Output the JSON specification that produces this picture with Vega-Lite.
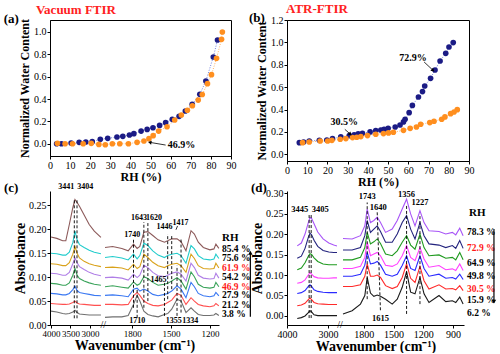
{
"$schema":"https://vega.github.io/schema/vega-lite/v6.json",
"padding":{"left":3,"top":2,"right":0,"bottom":0},
"background":"white",
"columns":2,
"align":"each",
"bounds":"flush",
"spacing":{"row":30,"column":56},
"resolve":{"scale":{"color":"independent","stroke":"independent"},"legend":{"color":"independent","stroke":"independent"}},
"config":{
 "view":{"stroke":"black","strokeWidth":1},
 "style":{"guide-label":{"font":"Liberation Serif","fontSize":10,"fill":"#000"},"guide-title":{"font":"Liberation Serif","fontWeight":"bold","fill":"#000"}},
 "axis":{"labelFont":"Liberation Serif","labelFontSize":10,"labelColor":"#000","titleFont":"Liberation Serif","titleFontWeight":"bold","titleFontSize":12,"titleColor":"#000","domainColor":"#000","domainWidth":1,"tickColor":"#000","tickSize":3,"grid":false,"labelPadding":1,"labelFlush":false,"labelOverlap":false},
 "text":{"font":"Liberation Serif","fontWeight":"bold","baseline":"middle"},
 "legend":{"labelFont":"Liberation Serif","labelFontWeight":"bold","labelFontSize":10,"labelColor":"#000"}
},
"datasets":{
 "wa":[
  {"s":"dehydration","rh":3.3,"w":0.0},{"s":"dehydration","rh":5.7,"w":0.0},{"s":"dehydration","rh":10.5,"w":0.006},{"s":"dehydration","rh":14.5,"w":0.012},{"s":"dehydration","rh":17.8,"w":0.015},{"s":"dehydration","rh":21,"w":0.018},{"s":"dehydration","rh":25,"w":0.039},{"s":"dehydration","rh":28.7,"w":0.048},{"s":"dehydration","rh":33.3,"w":0.06},{"s":"dehydration","rh":36.2,"w":0.066},{"s":"dehydration","rh":39.5,"w":0.078},{"s":"dehydration","rh":41.7,"w":0.09},{"s":"dehydration","rh":45.3,"w":0.113},{"s":"dehydration","rh":48.3,"w":0.128},{"s":"dehydration","rh":51.2,"w":0.143},{"s":"dehydration","rh":54.5,"w":0.164},{"s":"dehydration","rh":57.5,"w":0.188},{"s":"dehydration","rh":60.8,"w":0.218},{"s":"dehydration","rh":64.2,"w":0.245},{"s":"dehydration","rh":67.3,"w":0.293},{"s":"dehydration","rh":70.7,"w":0.352},{"s":"dehydration","rh":74.5,"w":0.442},{"s":"dehydration","rh":77.5,"w":0.561},{"s":"dehydration","rh":81.2,"w":0.776},{"s":"dehydration","rh":83.3,"w":0.928},
  {"s":"hydration","rh":3.7,"w":0.003},{"s":"hydration","rh":7.5,"w":0.0},{"s":"hydration","rh":11.2,"w":0.0},{"s":"hydration","rh":16.5,"w":0.0},{"s":"hydration","rh":20.5,"w":0.003},{"s":"hydration","rh":24.3,"w":-0.006},{"s":"hydration","rh":27.5,"w":-0.009},{"s":"hydration","rh":31,"w":0.0},{"s":"hydration","rh":34.7,"w":0.0},{"s":"hydration","rh":39,"w":0.0},{"s":"hydration","rh":43.3,"w":0.012},{"s":"hydration","rh":46.7,"w":0.024},{"s":"hydration","rh":49.2,"w":0.045},{"s":"hydration","rh":51.3,"w":0.072},{"s":"hydration","rh":54,"w":0.113},{"s":"hydration","rh":58.2,"w":0.152},{"s":"hydration","rh":62,"w":0.212},{"s":"hydration","rh":65.3,"w":0.257},{"s":"hydration","rh":68.3,"w":0.299},{"s":"hydration","rh":70.8,"w":0.34},{"s":"hydration","rh":73.7,"w":0.39},{"s":"hydration","rh":75.7,"w":0.44},{"s":"hydration","rh":78.3,"w":0.537},{"s":"hydration","rh":80.3,"w":0.618},{"s":"hydration","rh":82.8,"w":0.764},{"s":"hydration","rh":85.3,"w":0.934},{"s":"hydration","rh":85.7,"w":1.0}
 ],
 "wb":[
  {"s":"dehydration","rh":6.1,"w":0.104},{"s":"dehydration","rh":8.2,"w":0.11},{"s":"dehydration","rh":11,"w":0.119},{"s":"dehydration","rh":16,"w":0.125},{"s":"dehydration","rh":19.7,"w":0.128},{"s":"dehydration","rh":22.5,"w":0.14},{"s":"dehydration","rh":26.6,"w":0.155},{"s":"dehydration","rh":30.8,"w":0.167},{"s":"dehydration","rh":33.2,"w":0.173},{"s":"dehydration","rh":35.2,"w":0.182},{"s":"dehydration","rh":37.3,"w":0.188},{"s":"dehydration","rh":41.1,"w":0.2},{"s":"dehydration","rh":43.9,"w":0.211},{"s":"dehydration","rh":46.4,"w":0.217},{"s":"dehydration","rh":48,"w":0.223},{"s":"dehydration","rh":50,"w":0.232},{"s":"dehydration","rh":53.5,"w":0.244},{"s":"dehydration","rh":55.9,"w":0.262},{"s":"dehydration","rh":57.6,"w":0.289},{"s":"dehydration","rh":58.4,"w":0.313},{"s":"dehydration","rh":60.4,"w":0.372},{"s":"dehydration","rh":62,"w":0.437},{"s":"dehydration","rh":65,"w":0.512},{"s":"dehydration","rh":67,"w":0.56},{"s":"dehydration","rh":68.1,"w":0.61},{"s":"dehydration","rh":71,"w":0.679},{"s":"dehydration","rh":73.2,"w":0.753},{"s":"dehydration","rh":75.7,"w":0.834},{"s":"dehydration","rh":78.5,"w":0.902},{"s":"dehydration","rh":80.1,"w":0.959},{"s":"dehydration","rh":82.2,"w":0.998},
  {"s":"hydration","rh":7.7,"w":0.104},{"s":"hydration","rh":11,"w":0.11},{"s":"hydration","rh":16.4,"w":0.119},{"s":"hydration","rh":20.1,"w":0.119},{"s":"hydration","rh":22.2,"w":0.125},{"s":"hydration","rh":26.3,"w":0.134},{"s":"hydration","rh":29.1,"w":0.14},{"s":"hydration","rh":32.4,"w":0.149},{"s":"hydration","rh":34.5,"w":0.152},{"s":"hydration","rh":36.5,"w":0.158},{"s":"hydration","rh":39.8,"w":0.167},{"s":"hydration","rh":43.9,"w":0.179},{"s":"hydration","rh":47.7,"w":0.185},{"s":"hydration","rh":50.2,"w":0.191},{"s":"hydration","rh":52.6,"w":0.197},{"s":"hydration","rh":57.6,"w":0.214},{"s":"hydration","rh":60.9,"w":0.232},{"s":"hydration","rh":64,"w":0.244},{"s":"hydration","rh":66.1,"w":0.268},{"s":"hydration","rh":70.6,"w":0.283},{"s":"hydration","rh":72.7,"w":0.295},{"s":"hydration","rh":76.5,"w":0.313},{"s":"hydration","rh":78.1,"w":0.334},{"s":"hydration","rh":80.9,"w":0.363},{"s":"hydration","rh":82.6,"w":0.378},{"s":"hydration","rh":84.2,"w":0.399}
 ],
 "sc":[
  {"k":"3.8%","g":"L","x":4000,"y":0.029},{"k":"3.8%","g":"L","x":3850,"y":0.027},{"k":"3.8%","g":"L","x":3700,"y":0.024},{"k":"3.8%","g":"L","x":3620,"y":0.023},{"k":"3.8%","g":"L","x":3530,"y":0.024},{"k":"3.8%","g":"L","x":3440,"y":0.027},{"k":"3.8%","g":"L","x":3385,"y":0.031},{"k":"3.8%","g":"L","x":3330,"y":0.026},{"k":"3.8%","g":"L","x":3270,"y":0.023},{"k":"3.8%","g":"L","x":3150,"y":0.022},{"k":"3.8%","g":"L","x":3020,"y":0.021},{"k":"3.8%","g":"L","x":2890,"y":0.021},{"k":"3.8%","g":"L","x":2720,"y":0.021},
  {"k":"3.8%","g":"R","x":2010,"y":0.016},{"k":"3.8%","g":"R","x":1951,"y":0.017},{"k":"3.8%","g":"R","x":1880,"y":0.017},{"k":"3.8%","g":"R","x":1831,"y":0.02},{"k":"3.8%","g":"R","x":1790,"y":0.043},{"k":"3.8%","g":"R","x":1762,"y":0.062},{"k":"3.8%","g":"R","x":1741,"y":0.05},{"k":"3.8%","g":"R","x":1710,"y":0.029},{"k":"3.8%","g":"R","x":1679,"y":0.022},{"k":"3.8%","g":"R","x":1641,"y":0.019},{"k":"3.8%","g":"R","x":1600,"y":0.017},{"k":"3.8%","g":"R","x":1551,"y":0.022},{"k":"3.8%","g":"R","x":1526,"y":0.024},{"k":"3.8%","g":"R","x":1495,"y":0.033},{"k":"3.8%","g":"R","x":1454,"y":0.054},{"k":"3.8%","g":"R","x":1423,"y":0.05},{"k":"3.8%","g":"R","x":1385,"y":0.026},{"k":"3.8%","g":"R","x":1346,"y":0.036},{"k":"3.8%","g":"R","x":1320,"y":0.029},{"k":"3.8%","g":"R","x":1290,"y":0.022},{"k":"3.8%","g":"R","x":1251,"y":0.02},{"k":"3.8%","g":"R","x":1200,"y":0.02},{"k":"3.8%","g":"R","x":1169,"y":0.021},{"k":"3.8%","g":"R","x":1154,"y":0.024},{"k":"3.8%","g":"R","x":1131,"y":0.02},
  {"k":"21.2%","g":"L","x":4000,"y":0.045},{"k":"21.2%","g":"L","x":3850,"y":0.044},{"k":"21.2%","g":"L","x":3700,"y":0.043},{"k":"21.2%","g":"L","x":3620,"y":0.043},{"k":"21.2%","g":"L","x":3530,"y":0.044},{"k":"21.2%","g":"L","x":3440,"y":0.047},{"k":"21.2%","g":"L","x":3385,"y":0.05},{"k":"21.2%","g":"L","x":3330,"y":0.046},{"k":"21.2%","g":"L","x":3270,"y":0.044},{"k":"21.2%","g":"L","x":3150,"y":0.043},{"k":"21.2%","g":"L","x":3020,"y":0.042},{"k":"21.2%","g":"L","x":2890,"y":0.041},{"k":"21.2%","g":"L","x":2720,"y":0.041},
  {"k":"21.2%","g":"R","x":2010,"y":0.043},{"k":"21.2%","g":"R","x":1951,"y":0.043},{"k":"21.2%","g":"R","x":1880,"y":0.042},{"k":"21.2%","g":"R","x":1831,"y":0.043},{"k":"21.2%","g":"R","x":1790,"y":0.061},{"k":"21.2%","g":"R","x":1762,"y":0.068},{"k":"21.2%","g":"R","x":1741,"y":0.062},{"k":"21.2%","g":"R","x":1710,"y":0.05},{"k":"21.2%","g":"R","x":1679,"y":0.045},{"k":"21.2%","g":"R","x":1641,"y":0.041},{"k":"21.2%","g":"R","x":1600,"y":0.04},{"k":"21.2%","g":"R","x":1551,"y":0.043},{"k":"21.2%","g":"R","x":1526,"y":0.047},{"k":"21.2%","g":"R","x":1495,"y":0.052},{"k":"21.2%","g":"R","x":1454,"y":0.066},{"k":"21.2%","g":"R","x":1423,"y":0.062},{"k":"21.2%","g":"R","x":1385,"y":0.043},{"k":"21.2%","g":"R","x":1346,"y":0.057},{"k":"21.2%","g":"R","x":1320,"y":0.05},{"k":"21.2%","g":"R","x":1290,"y":0.043},{"k":"21.2%","g":"R","x":1251,"y":0.04},{"k":"21.2%","g":"R","x":1200,"y":0.038},{"k":"21.2%","g":"R","x":1169,"y":0.04},{"k":"21.2%","g":"R","x":1154,"y":0.045},{"k":"21.2%","g":"R","x":1131,"y":0.04},
  {"k":"27.9%","g":"L","x":4000,"y":0.066},{"k":"27.9%","g":"L","x":3850,"y":0.065},{"k":"27.9%","g":"L","x":3700,"y":0.063},{"k":"27.9%","g":"L","x":3620,"y":0.063},{"k":"27.9%","g":"L","x":3530,"y":0.066},{"k":"27.9%","g":"L","x":3440,"y":0.074},{"k":"27.9%","g":"L","x":3385,"y":0.081},{"k":"27.9%","g":"L","x":3330,"y":0.072},{"k":"27.9%","g":"L","x":3270,"y":0.068},{"k":"27.9%","g":"L","x":3150,"y":0.066},{"k":"27.9%","g":"L","x":3020,"y":0.064},{"k":"27.9%","g":"L","x":2890,"y":0.062},{"k":"27.9%","g":"L","x":2720,"y":0.061},
  {"k":"27.9%","g":"R","x":2010,"y":0.062},{"k":"27.9%","g":"R","x":1951,"y":0.063},{"k":"27.9%","g":"R","x":1880,"y":0.061},{"k":"27.9%","g":"R","x":1831,"y":0.059},{"k":"27.9%","g":"R","x":1790,"y":0.075},{"k":"27.9%","g":"R","x":1762,"y":0.077},{"k":"27.9%","g":"R","x":1741,"y":0.071},{"k":"27.9%","g":"R","x":1710,"y":0.075},{"k":"27.9%","g":"R","x":1679,"y":0.071},{"k":"27.9%","g":"R","x":1641,"y":0.064},{"k":"27.9%","g":"R","x":1600,"y":0.061},{"k":"27.9%","g":"R","x":1551,"y":0.064},{"k":"27.9%","g":"R","x":1526,"y":0.066},{"k":"27.9%","g":"R","x":1495,"y":0.071},{"k":"27.9%","g":"R","x":1454,"y":0.082},{"k":"27.9%","g":"R","x":1423,"y":0.075},{"k":"27.9%","g":"R","x":1385,"y":0.057},{"k":"27.9%","g":"R","x":1346,"y":0.089},{"k":"27.9%","g":"R","x":1320,"y":0.08},{"k":"27.9%","g":"R","x":1290,"y":0.066},{"k":"27.9%","g":"R","x":1251,"y":0.061},{"k":"27.9%","g":"R","x":1200,"y":0.059},{"k":"27.9%","g":"R","x":1169,"y":0.061},{"k":"27.9%","g":"R","x":1154,"y":0.068},{"k":"27.9%","g":"R","x":1131,"y":0.061},
  {"k":"46.9%","g":"L","x":4000,"y":0.087},{"k":"46.9%","g":"L","x":3850,"y":0.086},{"k":"46.9%","g":"L","x":3700,"y":0.083},{"k":"46.9%","g":"L","x":3620,"y":0.083},{"k":"46.9%","g":"L","x":3530,"y":0.088},{"k":"46.9%","g":"L","x":3440,"y":0.104},{"k":"46.9%","g":"L","x":3385,"y":0.118},{"k":"46.9%","g":"L","x":3330,"y":0.104},{"k":"46.9%","g":"L","x":3270,"y":0.097},{"k":"46.9%","g":"L","x":3150,"y":0.092},{"k":"46.9%","g":"L","x":3020,"y":0.088},{"k":"46.9%","g":"L","x":2890,"y":0.085},{"k":"46.9%","g":"L","x":2720,"y":0.083},
  {"k":"46.9%","g":"R","x":2010,"y":0.08},{"k":"46.9%","g":"R","x":1951,"y":0.082},{"k":"46.9%","g":"R","x":1880,"y":0.079},{"k":"46.9%","g":"R","x":1831,"y":0.077},{"k":"46.9%","g":"R","x":1790,"y":0.09},{"k":"46.9%","g":"R","x":1762,"y":0.083},{"k":"46.9%","g":"R","x":1741,"y":0.086},{"k":"46.9%","g":"R","x":1710,"y":0.101},{"k":"46.9%","g":"R","x":1679,"y":0.097},{"k":"46.9%","g":"R","x":1641,"y":0.089},{"k":"46.9%","g":"R","x":1600,"y":0.083},{"k":"46.9%","g":"R","x":1551,"y":0.085},{"k":"46.9%","g":"R","x":1526,"y":0.087},{"k":"46.9%","g":"R","x":1495,"y":0.092},{"k":"46.9%","g":"R","x":1454,"y":0.099},{"k":"46.9%","g":"R","x":1423,"y":0.092},{"k":"46.9%","g":"R","x":1385,"y":0.075},{"k":"46.9%","g":"R","x":1346,"y":0.111},{"k":"46.9%","g":"R","x":1320,"y":0.101},{"k":"46.9%","g":"R","x":1290,"y":0.085},{"k":"46.9%","g":"R","x":1251,"y":0.079},{"k":"46.9%","g":"R","x":1200,"y":0.077},{"k":"46.9%","g":"R","x":1169,"y":0.079},{"k":"46.9%","g":"R","x":1154,"y":0.089},{"k":"46.9%","g":"R","x":1131,"y":0.08},
  {"k":"54.2%","g":"L","x":4000,"y":0.108},{"k":"54.2%","g":"L","x":3850,"y":0.107},{"k":"54.2%","g":"L","x":3700,"y":0.104},{"k":"54.2%","g":"L","x":3620,"y":0.104},{"k":"54.2%","g":"L","x":3530,"y":0.11},{"k":"54.2%","g":"L","x":3440,"y":0.128},{"k":"54.2%","g":"L","x":3385,"y":0.14},{"k":"54.2%","g":"L","x":3330,"y":0.13},{"k":"54.2%","g":"L","x":3270,"y":0.122},{"k":"54.2%","g":"L","x":3150,"y":0.116},{"k":"54.2%","g":"L","x":3020,"y":0.11},{"k":"54.2%","g":"L","x":2890,"y":0.106},{"k":"54.2%","g":"L","x":2720,"y":0.103},
  {"k":"54.2%","g":"R","x":2010,"y":0.099},{"k":"54.2%","g":"R","x":1951,"y":0.1},{"k":"54.2%","g":"R","x":1880,"y":0.098},{"k":"54.2%","g":"R","x":1831,"y":0.094},{"k":"54.2%","g":"R","x":1790,"y":0.106},{"k":"54.2%","g":"R","x":1762,"y":0.099},{"k":"54.2%","g":"R","x":1741,"y":0.104},{"k":"54.2%","g":"R","x":1710,"y":0.125},{"k":"54.2%","g":"R","x":1679,"y":0.12},{"k":"54.2%","g":"R","x":1641,"y":0.11},{"k":"54.2%","g":"R","x":1600,"y":0.103},{"k":"54.2%","g":"R","x":1551,"y":0.101},{"k":"54.2%","g":"R","x":1526,"y":0.104},{"k":"54.2%","g":"R","x":1495,"y":0.108},{"k":"54.2%","g":"R","x":1454,"y":0.111},{"k":"54.2%","g":"R","x":1423,"y":0.106},{"k":"54.2%","g":"R","x":1385,"y":0.092},{"k":"54.2%","g":"R","x":1346,"y":0.129},{"k":"54.2%","g":"R","x":1320,"y":0.12},{"k":"54.2%","g":"R","x":1290,"y":0.104},{"k":"54.2%","g":"R","x":1251,"y":0.098},{"k":"54.2%","g":"R","x":1200,"y":0.096},{"k":"54.2%","g":"R","x":1169,"y":0.097},{"k":"54.2%","g":"R","x":1154,"y":0.108},{"k":"54.2%","g":"R","x":1131,"y":0.098},
  {"k":"61.9%","g":"L","x":4000,"y":0.128},{"k":"61.9%","g":"L","x":3850,"y":0.127},{"k":"61.9%","g":"L","x":3700,"y":0.124},{"k":"61.9%","g":"L","x":3620,"y":0.124},{"k":"61.9%","g":"L","x":3530,"y":0.13},{"k":"61.9%","g":"L","x":3440,"y":0.148},{"k":"61.9%","g":"L","x":3385,"y":0.164},{"k":"61.9%","g":"L","x":3330,"y":0.15},{"k":"61.9%","g":"L","x":3270,"y":0.14},{"k":"61.9%","g":"L","x":3150,"y":0.133},{"k":"61.9%","g":"L","x":3020,"y":0.128},{"k":"61.9%","g":"L","x":2890,"y":0.125},{"k":"61.9%","g":"L","x":2720,"y":0.122},
  {"k":"61.9%","g":"R","x":2010,"y":0.12},{"k":"61.9%","g":"R","x":1951,"y":0.121},{"k":"61.9%","g":"R","x":1880,"y":0.119},{"k":"61.9%","g":"R","x":1831,"y":0.115},{"k":"61.9%","g":"R","x":1790,"y":0.127},{"k":"61.9%","g":"R","x":1762,"y":0.118},{"k":"61.9%","g":"R","x":1741,"y":0.122},{"k":"61.9%","g":"R","x":1710,"y":0.148},{"k":"61.9%","g":"R","x":1679,"y":0.141},{"k":"61.9%","g":"R","x":1641,"y":0.131},{"k":"61.9%","g":"R","x":1600,"y":0.124},{"k":"61.9%","g":"R","x":1551,"y":0.12},{"k":"61.9%","g":"R","x":1526,"y":0.124},{"k":"61.9%","g":"R","x":1495,"y":0.127},{"k":"61.9%","g":"R","x":1454,"y":0.129},{"k":"61.9%","g":"R","x":1423,"y":0.124},{"k":"61.9%","g":"R","x":1385,"y":0.11},{"k":"61.9%","g":"R","x":1346,"y":0.148},{"k":"61.9%","g":"R","x":1320,"y":0.139},{"k":"61.9%","g":"R","x":1290,"y":0.124},{"k":"61.9%","g":"R","x":1251,"y":0.118},{"k":"61.9%","g":"R","x":1200,"y":0.117},{"k":"61.9%","g":"R","x":1169,"y":0.118},{"k":"61.9%","g":"R","x":1154,"y":0.129},{"k":"61.9%","g":"R","x":1131,"y":0.119},
  {"k":"75.6%","g":"L","x":4000,"y":0.15},{"k":"75.6%","g":"L","x":3850,"y":0.149},{"k":"75.6%","g":"L","x":3700,"y":0.146},{"k":"75.6%","g":"L","x":3620,"y":0.146},{"k":"75.6%","g":"L","x":3530,"y":0.152},{"k":"75.6%","g":"L","x":3440,"y":0.172},{"k":"75.6%","g":"L","x":3385,"y":0.196},{"k":"75.6%","g":"L","x":3330,"y":0.178},{"k":"75.6%","g":"L","x":3270,"y":0.168},{"k":"75.6%","g":"L","x":3150,"y":0.162},{"k":"75.6%","g":"L","x":3020,"y":0.156},{"k":"75.6%","g":"L","x":2890,"y":0.152},{"k":"75.6%","g":"L","x":2720,"y":0.149},
  {"k":"75.6%","g":"R","x":2010,"y":0.141},{"k":"75.6%","g":"R","x":1951,"y":0.143},{"k":"75.6%","g":"R","x":1880,"y":0.14},{"k":"75.6%","g":"R","x":1831,"y":0.136},{"k":"75.6%","g":"R","x":1790,"y":0.148},{"k":"75.6%","g":"R","x":1762,"y":0.138},{"k":"75.6%","g":"R","x":1741,"y":0.145},{"k":"75.6%","g":"R","x":1710,"y":0.171},{"k":"75.6%","g":"R","x":1679,"y":0.166},{"k":"75.6%","g":"R","x":1641,"y":0.155},{"k":"75.6%","g":"R","x":1600,"y":0.146},{"k":"75.6%","g":"R","x":1551,"y":0.141},{"k":"75.6%","g":"R","x":1526,"y":0.145},{"k":"75.6%","g":"R","x":1495,"y":0.148},{"k":"75.6%","g":"R","x":1454,"y":0.15},{"k":"75.6%","g":"R","x":1423,"y":0.145},{"k":"75.6%","g":"R","x":1385,"y":0.129},{"k":"75.6%","g":"R","x":1346,"y":0.166},{"k":"75.6%","g":"R","x":1320,"y":0.159},{"k":"75.6%","g":"R","x":1290,"y":0.145},{"k":"75.6%","g":"R","x":1251,"y":0.138},{"k":"75.6%","g":"R","x":1200,"y":0.136},{"k":"75.6%","g":"R","x":1169,"y":0.138},{"k":"75.6%","g":"R","x":1154,"y":0.148},{"k":"75.6%","g":"R","x":1131,"y":0.139},
  {"k":"85.4%","g":"L","x":4000,"y":0.184},{"k":"85.4%","g":"L","x":3850,"y":0.181},{"k":"85.4%","g":"L","x":3700,"y":0.176},{"k":"85.4%","g":"L","x":3620,"y":0.176},{"k":"85.4%","g":"L","x":3530,"y":0.21},{"k":"85.4%","g":"L","x":3440,"y":0.245},{"k":"85.4%","g":"L","x":3385,"y":0.262},{"k":"85.4%","g":"L","x":3330,"y":0.256},{"k":"85.4%","g":"L","x":3270,"y":0.248},{"k":"85.4%","g":"L","x":3150,"y":0.23},{"k":"85.4%","g":"L","x":3020,"y":0.21},{"k":"85.4%","g":"L","x":2890,"y":0.196},{"k":"85.4%","g":"L","x":2720,"y":0.183},
  {"k":"85.4%","g":"R","x":2010,"y":0.162},{"k":"85.4%","g":"R","x":1951,"y":0.164},{"k":"85.4%","g":"R","x":1880,"y":0.16},{"k":"85.4%","g":"R","x":1831,"y":0.155},{"k":"85.4%","g":"R","x":1790,"y":0.169},{"k":"85.4%","g":"R","x":1762,"y":0.16},{"k":"85.4%","g":"R","x":1741,"y":0.164},{"k":"85.4%","g":"R","x":1710,"y":0.194},{"k":"85.4%","g":"R","x":1679,"y":0.195},{"k":"85.4%","g":"R","x":1641,"y":0.187},{"k":"85.4%","g":"R","x":1600,"y":0.178},{"k":"85.4%","g":"R","x":1551,"y":0.173},{"k":"85.4%","g":"R","x":1526,"y":0.176},{"k":"85.4%","g":"R","x":1495,"y":0.18},{"k":"85.4%","g":"R","x":1454,"y":0.18},{"k":"85.4%","g":"R","x":1423,"y":0.174},{"k":"85.4%","g":"R","x":1385,"y":0.155},{"k":"85.4%","g":"R","x":1346,"y":0.197},{"k":"85.4%","g":"R","x":1320,"y":0.19},{"k":"85.4%","g":"R","x":1290,"y":0.173},{"k":"85.4%","g":"R","x":1251,"y":0.162},{"k":"85.4%","g":"R","x":1200,"y":0.157},{"k":"85.4%","g":"R","x":1169,"y":0.159},{"k":"85.4%","g":"R","x":1154,"y":0.169},{"k":"85.4%","g":"R","x":1131,"y":0.16}
 ],
 "sd":[
  {"k":"6.2%","g":"L","x":3750,"y":-0.006},{"k":"6.2%","g":"L","x":3650,"y":-0.004},{"k":"6.2%","g":"L","x":3560,"y":0.0},{"k":"6.2%","g":"L","x":3480,"y":0.008},{"k":"6.2%","g":"L","x":3440,"y":0.013},{"k":"6.2%","g":"L","x":3400,"y":0.01},{"k":"6.2%","g":"L","x":3340,"y":0.003},{"k":"6.2%","g":"L","x":3250,"y":0.001},{"k":"6.2%","g":"L","x":3120,"y":0.001},{"k":"6.2%","g":"L","x":2980,"y":0.001},{"k":"6.2%","g":"L","x":2860,"y":0.001},{"k":"6.2%","g":"L","x":2780,"y":0.001},
  {"k":"6.2%","g":"R","x":2010,"y":0.005},{"k":"6.2%","g":"R","x":1918,"y":0.013},{"k":"6.2%","g":"R","x":1834,"y":0.029},{"k":"6.2%","g":"R","x":1790,"y":0.05},{"k":"6.2%","g":"R","x":1766,"y":0.094},{"k":"6.2%","g":"R","x":1733,"y":0.056},{"k":"6.2%","g":"R","x":1699,"y":0.048},{"k":"6.2%","g":"R","x":1665,"y":0.051},{"k":"6.2%","g":"R","x":1632,"y":0.048},{"k":"6.2%","g":"R","x":1581,"y":0.041},{"k":"6.2%","g":"R","x":1514,"y":0.029},{"k":"6.2%","g":"R","x":1463,"y":0.041},{"k":"6.2%","g":"R","x":1413,"y":0.07},{"k":"6.2%","g":"R","x":1369,"y":0.108},{"k":"6.2%","g":"R","x":1328,"y":0.058},{"k":"6.2%","g":"R","x":1284,"y":0.054},{"k":"6.2%","g":"R","x":1234,"y":0.094},{"k":"6.2%","g":"R","x":1193,"y":0.054},{"k":"6.2%","g":"R","x":1143,"y":0.033},{"k":"6.2%","g":"R","x":1042,"y":0.05},{"k":"6.2%","g":"R","x":974,"y":0.035},{"k":"6.2%","g":"R","x":907,"y":0.037},{"k":"6.2%","g":"R","x":873,"y":0.033},{"k":"6.2%","g":"R","x":833,"y":0.046},{"k":"6.2%","g":"R","x":799,"y":0.029},
  {"k":"15.9%","g":"L","x":3750,"y":0.025},{"k":"15.9%","g":"L","x":3650,"y":0.027},{"k":"15.9%","g":"L","x":3560,"y":0.031},{"k":"15.9%","g":"L","x":3480,"y":0.04},{"k":"15.9%","g":"L","x":3440,"y":0.044},{"k":"15.9%","g":"L","x":3400,"y":0.04},{"k":"15.9%","g":"L","x":3340,"y":0.033},{"k":"15.9%","g":"L","x":3250,"y":0.03},{"k":"15.9%","g":"L","x":3120,"y":0.029},{"k":"15.9%","g":"L","x":2980,"y":0.028},{"k":"15.9%","g":"L","x":2860,"y":0.028},{"k":"15.9%","g":"L","x":2780,"y":0.028},
  {"k":"15.9%","g":"R","x":2010,"y":0.072},{"k":"15.9%","g":"R","x":1918,"y":0.072},{"k":"15.9%","g":"R","x":1834,"y":0.076},{"k":"15.9%","g":"R","x":1790,"y":0.097},{"k":"15.9%","g":"R","x":1766,"y":0.127},{"k":"15.9%","g":"R","x":1733,"y":0.097},{"k":"15.9%","g":"R","x":1699,"y":0.097},{"k":"15.9%","g":"R","x":1665,"y":0.1},{"k":"15.9%","g":"R","x":1632,"y":0.094},{"k":"15.9%","g":"R","x":1581,"y":0.074},{"k":"15.9%","g":"R","x":1514,"y":0.067},{"k":"15.9%","g":"R","x":1463,"y":0.072},{"k":"15.9%","g":"R","x":1413,"y":0.094},{"k":"15.9%","g":"R","x":1369,"y":0.127},{"k":"15.9%","g":"R","x":1328,"y":0.092},{"k":"15.9%","g":"R","x":1284,"y":0.082},{"k":"15.9%","g":"R","x":1234,"y":0.121},{"k":"15.9%","g":"R","x":1193,"y":0.086},{"k":"15.9%","g":"R","x":1143,"y":0.066},{"k":"15.9%","g":"R","x":1042,"y":0.076},{"k":"15.9%","g":"R","x":974,"y":0.066},{"k":"15.9%","g":"R","x":907,"y":0.067},{"k":"15.9%","g":"R","x":873,"y":0.064},{"k":"15.9%","g":"R","x":833,"y":0.074},{"k":"15.9%","g":"R","x":799,"y":0.062},
  {"k":"30.5%","g":"L","x":3750,"y":0.055},{"k":"30.5%","g":"L","x":3650,"y":0.057},{"k":"30.5%","g":"L","x":3560,"y":0.062},{"k":"30.5%","g":"L","x":3480,"y":0.072},{"k":"30.5%","g":"L","x":3440,"y":0.076},{"k":"30.5%","g":"L","x":3400,"y":0.072},{"k":"30.5%","g":"L","x":3340,"y":0.064},{"k":"30.5%","g":"L","x":3250,"y":0.06},{"k":"30.5%","g":"L","x":3120,"y":0.058},{"k":"30.5%","g":"L","x":2980,"y":0.057},{"k":"30.5%","g":"L","x":2860,"y":0.057},{"k":"30.5%","g":"L","x":2780,"y":0.057},
  {"k":"30.5%","g":"R","x":2010,"y":0.097},{"k":"30.5%","g":"R","x":1918,"y":0.097},{"k":"30.5%","g":"R","x":1834,"y":0.102},{"k":"30.5%","g":"R","x":1790,"y":0.124},{"k":"30.5%","g":"R","x":1766,"y":0.155},{"k":"30.5%","g":"R","x":1733,"y":0.127},{"k":"30.5%","g":"R","x":1699,"y":0.129},{"k":"30.5%","g":"R","x":1665,"y":0.133},{"k":"30.5%","g":"R","x":1632,"y":0.124},{"k":"30.5%","g":"R","x":1581,"y":0.102},{"k":"30.5%","g":"R","x":1514,"y":0.097},{"k":"30.5%","g":"R","x":1463,"y":0.102},{"k":"30.5%","g":"R","x":1413,"y":0.123},{"k":"30.5%","g":"R","x":1369,"y":0.147},{"k":"30.5%","g":"R","x":1328,"y":0.116},{"k":"30.5%","g":"R","x":1284,"y":0.111},{"k":"30.5%","g":"R","x":1234,"y":0.147},{"k":"30.5%","g":"R","x":1193,"y":0.116},{"k":"30.5%","g":"R","x":1143,"y":0.097},{"k":"30.5%","g":"R","x":1042,"y":0.102},{"k":"30.5%","g":"R","x":974,"y":0.092},{"k":"30.5%","g":"R","x":907,"y":0.094},{"k":"30.5%","g":"R","x":873,"y":0.09},{"k":"30.5%","g":"R","x":833,"y":0.102},{"k":"30.5%","g":"R","x":799,"y":0.089},
  {"k":"49.8%","g":"L","x":3750,"y":0.08},{"k":"49.8%","g":"L","x":3650,"y":0.082},{"k":"49.8%","g":"L","x":3560,"y":0.088},{"k":"49.8%","g":"L","x":3480,"y":0.1},{"k":"49.8%","g":"L","x":3440,"y":0.106},{"k":"49.8%","g":"L","x":3400,"y":0.102},{"k":"49.8%","g":"L","x":3340,"y":0.096},{"k":"49.8%","g":"L","x":3250,"y":0.093},{"k":"49.8%","g":"L","x":3120,"y":0.092},{"k":"49.8%","g":"L","x":2980,"y":0.092},{"k":"49.8%","g":"L","x":2860,"y":0.093},{"k":"49.8%","g":"L","x":2780,"y":0.093},
  {"k":"49.8%","g":"R","x":2010,"y":0.116},{"k":"49.8%","g":"R","x":1918,"y":0.116},{"k":"49.8%","g":"R","x":1834,"y":0.121},{"k":"49.8%","g":"R","x":1790,"y":0.143},{"k":"49.8%","g":"R","x":1766,"y":0.18},{"k":"49.8%","g":"R","x":1733,"y":0.147},{"k":"49.8%","g":"R","x":1699,"y":0.151},{"k":"49.8%","g":"R","x":1665,"y":0.155},{"k":"49.8%","g":"R","x":1632,"y":0.147},{"k":"49.8%","g":"R","x":1581,"y":0.124},{"k":"49.8%","g":"R","x":1514,"y":0.121},{"k":"49.8%","g":"R","x":1463,"y":0.127},{"k":"49.8%","g":"R","x":1413,"y":0.147},{"k":"49.8%","g":"R","x":1369,"y":0.172},{"k":"49.8%","g":"R","x":1328,"y":0.143},{"k":"49.8%","g":"R","x":1284,"y":0.135},{"k":"49.8%","g":"R","x":1234,"y":0.167},{"k":"49.8%","g":"R","x":1193,"y":0.139},{"k":"49.8%","g":"R","x":1143,"y":0.119},{"k":"49.8%","g":"R","x":1042,"y":0.123},{"k":"49.8%","g":"R","x":974,"y":0.113},{"k":"49.8%","g":"R","x":907,"y":0.115},{"k":"49.8%","g":"R","x":873,"y":0.111},{"k":"49.8%","g":"R","x":833,"y":0.127},{"k":"49.8%","g":"R","x":799,"y":0.111},
  {"k":"64.9%","g":"L","x":3750,"y":0.113},{"k":"64.9%","g":"L","x":3650,"y":0.117},{"k":"64.9%","g":"L","x":3560,"y":0.13},{"k":"64.9%","g":"L","x":3480,"y":0.146},{"k":"64.9%","g":"L","x":3440,"y":0.152},{"k":"64.9%","g":"L","x":3400,"y":0.15},{"k":"64.9%","g":"L","x":3340,"y":0.142},{"k":"64.9%","g":"L","x":3250,"y":0.133},{"k":"64.9%","g":"L","x":3120,"y":0.127},{"k":"64.9%","g":"L","x":2980,"y":0.125},{"k":"64.9%","g":"L","x":2860,"y":0.125},{"k":"64.9%","g":"L","x":2780,"y":0.125},
  {"k":"64.9%","g":"R","x":2010,"y":0.137},{"k":"64.9%","g":"R","x":1918,"y":0.137},{"k":"64.9%","g":"R","x":1834,"y":0.143},{"k":"64.9%","g":"R","x":1790,"y":0.167},{"k":"64.9%","g":"R","x":1766,"y":0.204},{"k":"64.9%","g":"R","x":1733,"y":0.176},{"k":"64.9%","g":"R","x":1699,"y":0.181},{"k":"64.9%","g":"R","x":1665,"y":0.188},{"k":"64.9%","g":"R","x":1632,"y":0.177},{"k":"64.9%","g":"R","x":1581,"y":0.151},{"k":"64.9%","g":"R","x":1514,"y":0.147},{"k":"64.9%","g":"R","x":1463,"y":0.159},{"k":"64.9%","g":"R","x":1413,"y":0.18},{"k":"64.9%","g":"R","x":1369,"y":0.196},{"k":"64.9%","g":"R","x":1328,"y":0.173},{"k":"64.9%","g":"R","x":1284,"y":0.163},{"k":"64.9%","g":"R","x":1234,"y":0.2},{"k":"64.9%","g":"R","x":1193,"y":0.167},{"k":"64.9%","g":"R","x":1143,"y":0.147},{"k":"64.9%","g":"R","x":1042,"y":0.149},{"k":"64.9%","g":"R","x":974,"y":0.141},{"k":"64.9%","g":"R","x":907,"y":0.143},{"k":"64.9%","g":"R","x":873,"y":0.137},{"k":"64.9%","g":"R","x":833,"y":0.155},{"k":"64.9%","g":"R","x":799,"y":0.137},
  {"k":"72.9%","g":"L","x":3750,"y":0.141},{"k":"72.9%","g":"L","x":3650,"y":0.146},{"k":"72.9%","g":"L","x":3560,"y":0.165},{"k":"72.9%","g":"L","x":3480,"y":0.192},{"k":"72.9%","g":"L","x":3440,"y":0.202},{"k":"72.9%","g":"L","x":3400,"y":0.198},{"k":"72.9%","g":"L","x":3340,"y":0.185},{"k":"72.9%","g":"L","x":3250,"y":0.17},{"k":"72.9%","g":"L","x":3120,"y":0.16},{"k":"72.9%","g":"L","x":2980,"y":0.156},{"k":"72.9%","g":"L","x":2860,"y":0.155},{"k":"72.9%","g":"L","x":2780,"y":0.155},
  {"k":"72.9%","g":"R","x":2010,"y":0.161},{"k":"72.9%","g":"R","x":1918,"y":0.161},{"k":"72.9%","g":"R","x":1834,"y":0.167},{"k":"72.9%","g":"R","x":1790,"y":0.196},{"k":"72.9%","g":"R","x":1766,"y":0.233},{"k":"72.9%","g":"R","x":1733,"y":0.204},{"k":"72.9%","g":"R","x":1699,"y":0.212},{"k":"72.9%","g":"R","x":1665,"y":0.22},{"k":"72.9%","g":"R","x":1632,"y":0.206},{"k":"72.9%","g":"R","x":1581,"y":0.18},{"k":"72.9%","g":"R","x":1514,"y":0.18},{"k":"72.9%","g":"R","x":1463,"y":0.2},{"k":"72.9%","g":"R","x":1413,"y":0.228},{"k":"72.9%","g":"R","x":1369,"y":0.245},{"k":"72.9%","g":"R","x":1328,"y":0.212},{"k":"72.9%","g":"R","x":1284,"y":0.188},{"k":"72.9%","g":"R","x":1234,"y":0.228},{"k":"72.9%","g":"R","x":1193,"y":0.196},{"k":"72.9%","g":"R","x":1143,"y":0.176},{"k":"72.9%","g":"R","x":1042,"y":0.173},{"k":"72.9%","g":"R","x":974,"y":0.167},{"k":"72.9%","g":"R","x":907,"y":0.172},{"k":"72.9%","g":"R","x":873,"y":0.165},{"k":"72.9%","g":"R","x":833,"y":0.184},{"k":"72.9%","g":"R","x":799,"y":0.165},
  {"k":"78.3%","g":"L","x":3750,"y":0.171},{"k":"78.3%","g":"L","x":3650,"y":0.178},{"k":"78.3%","g":"L","x":3560,"y":0.2},{"k":"78.3%","g":"L","x":3480,"y":0.228},{"k":"78.3%","g":"L","x":3440,"y":0.24},{"k":"78.3%","g":"L","x":3400,"y":0.238},{"k":"78.3%","g":"L","x":3340,"y":0.225},{"k":"78.3%","g":"L","x":3250,"y":0.205},{"k":"78.3%","g":"L","x":3120,"y":0.188},{"k":"78.3%","g":"L","x":2980,"y":0.178},{"k":"78.3%","g":"L","x":2860,"y":0.173},{"k":"78.3%","g":"L","x":2780,"y":0.171},
  {"k":"78.3%","g":"R","x":2010,"y":0.189},{"k":"78.3%","g":"R","x":1918,"y":0.188},{"k":"78.3%","g":"R","x":1834,"y":0.196},{"k":"78.3%","g":"R","x":1790,"y":0.22},{"k":"78.3%","g":"R","x":1766,"y":0.261},{"k":"78.3%","g":"R","x":1733,"y":0.228},{"k":"78.3%","g":"R","x":1699,"y":0.233},{"k":"78.3%","g":"R","x":1665,"y":0.241},{"k":"78.3%","g":"R","x":1632,"y":0.228},{"k":"78.3%","g":"R","x":1581,"y":0.204},{"k":"78.3%","g":"R","x":1514,"y":0.212},{"k":"78.3%","g":"R","x":1463,"y":0.233},{"k":"78.3%","g":"R","x":1413,"y":0.261},{"k":"78.3%","g":"R","x":1369,"y":0.285},{"k":"78.3%","g":"R","x":1328,"y":0.249},{"k":"78.3%","g":"R","x":1284,"y":0.22},{"k":"78.3%","g":"R","x":1234,"y":0.257},{"k":"78.3%","g":"R","x":1193,"y":0.228},{"k":"78.3%","g":"R","x":1143,"y":0.208},{"k":"78.3%","g":"R","x":1042,"y":0.206},{"k":"78.3%","g":"R","x":974,"y":0.2},{"k":"78.3%","g":"R","x":907,"y":0.204},{"k":"78.3%","g":"R","x":873,"y":0.198},{"k":"78.3%","g":"R","x":833,"y":0.214},{"k":"78.3%","g":"R","x":799,"y":0.196}
 ],
 "lc":[{"x":3402,"y":0.014,"y2":0.262},{"x":3333,"y":0.014,"y2":0.262},{"x":1790,"y":0.036,"y2":0.18},{"x":1762,"y":0.015,"y2":0.075},{"x":1710,"y":0.036,"y2":0.215},{"x":1679,"y":0.05,"y2":0.215},{"x":1551,"y":0.019,"y2":0.089},{"x":1526,"y":0.054,"y2":0.19},{"x":1495,"y":0.075,"y2":0.187},{"x":1454,"y":0.019,"y2":0.124},{"x":1423,"y":0.026,"y2":0.18}],
 "pc":[{"t":"3441","x":3610,"y":0.289},{"t":"3404","x":3120,"y":0.289},{"t":"1740","x":1800,"y":0.188},{"t":"1643","x":1748,"y":0.224},{"t":"1620","x":1632,"y":0.224},{"t":"1446","x":1551,"y":0.204},{"t":"1417","x":1428,"y":0.214},{"t":"1465","x":1597,"y":0.094},{"t":"1710","x":1762,"y":0.008},{"t":"1355","x":1479,"y":0.008},{"t":"1334","x":1351,"y":0.008}],
 "rc":[{"t":"85.4 %","y":0.159},{"t":"75.6 %","y":0.14},{"t":"61.9 %","y":0.12},{"t":"54.2 %","y":0.1},{"t":"46.9 %","y":0.08},{"t":"27.9 %","y":0.062},{"t":"21.2 %","y":0.042},{"t":"3.8 %","y":0.022}],
 "ld":[{"x":3460,"x2":3460,"y":-0.005,"y2":0.25},{"x":3410,"x2":3410,"y":-0.005,"y2":0.25},{"x":1766,"x2":1766,"y":0.041,"y2":0.277},{"x":1665,"x2":1632,"y":0.253,"y2":0.01},{"x":1369,"x2":1369,"y":0.005,"y2":0.273},{"x":1234,"x2":1234,"y":0.029,"y2":0.249}],
 "pd":[{"t":"3445","x":3690,"y":0.262},{"t":"3405","x":3190,"y":0.262},{"t":"1743","x":1766,"y":0.292},{"t":"1640","x":1655,"y":0.266},{"t":"1356","x":1369,"y":0.298},{"t":"1227","x":1234,"y":0.277},{"t":"1615","x":1632,"y":-0.005}],
 "rd":[{"t":"78.3 %","y":0.205},{"t":"72.9 %","y":0.166},{"t":"64.9 %","y":0.129},{"t":"49.8 %","y":0.098},{"t":"30.5 %","y":0.067},{"t":"15.9 %","y":0.039},{"t":"6.2 %","y":0.007}]
},
"concat":[
 {"width":181,"height":136,
  "resolve":{"axis":{"x":"independent","y":"independent"}},
  "layer":[
   {"data":{"name":"wa"},"mark":{"type":"line","strokeDash":[1,1.5],"strokeWidth":1},
    "encoding":{"x":{"field":"rh","type":"quantitative","scale":{"domain":[0,90],"nice":false,"zero":false},"axis":{"values":[0,10,20,30,40,50,60,70,80,90],"title":"RH (%)","titlePadding":1,"labelFont":"Liberation Serif","labelFontSize":10,"labelOverlap":false,"labelFlush":false}},
     "y":{"field":"w","type":"quantitative","scale":{"domain":[-0.11,1.107],"nice":false,"zero":false},"axis":{"values":[0,0.2,0.4,0.6,0.8,1.0],"format":".1f","title":"Normalized Water Content","titlePadding":2,"labelFont":"Liberation Serif","labelFontSize":10,"labelOverlap":false,"labelFlush":false}},
     "stroke":{"field":"s","type":"nominal","scale":{"domain":["dehydration","hydration"],"range":["#7080e0","#ffb266"]},"legend":null}}},
   {"data":{"name":"wa"},"mark":{"type":"point","filled":true,"shape":"circle","size":32,"opacity":1},
    "encoding":{"x":{"field":"rh","type":"quantitative","axis":null},"y":{"field":"w","type":"quantitative","axis":null},
     "color":{"field":"s","type":"nominal","scale":{"domain":["dehydration","hydration"],"range":["#1b1b85","#ff8f1f"]},
      "legend":{"orient":"none","legendX":7,"legendY":3,"title":null,"symbolType":"circle","symbolSize":40,"padding":0,"rowPadding":1,"labelOffset":6}}}},
   {"data":{"values":[{}]},"mark":{"type":"rule","color":"black","strokeWidth":0.8},"encoding":{"x":{"datum":57.5,"axis":null},"y":{"datum":-0.012,"axis":null},"x2":{"datum":50},"y2":{"datum":0.011}}},
   {"data":{"values":[{}]},"mark":{"type":"point","shape":"triangle-up","filled":true,"color":"black","size":16,"angle":280,"opacity":1},"encoding":{"x":{"datum":49.6,"axis":null},"y":{"datum":0.012,"axis":null}}},
   {"data":{"values":[{}]},"mark":{"type":"text","fontSize":10,"align":"left"},"encoding":{"x":{"datum":58.5,"axis":null},"y":{"datum":-0.015,"axis":null},"text":{"value":"46.9%"}}},
   {"data":{"values":[{}]},"mark":{"type":"text","fontSize":13,"align":"left"},"encoding":{"x":{"datum":-23,"axis":null},"y":{"datum":1.118,"axis":null},"text":{"value":"(a)"}}},
   {"data":{"values":[{}]},"mark":{"type":"text","fontSize":13,"align":"left","color":"#ff2222"},"encoding":{"x":{"datum":-7,"axis":null},"y":{"datum":1.197,"axis":null},"text":{"value":"Vacuum FTIR"}}}
  ]},
 {"width":182,"height":141,
  "resolve":{"axis":{"x":"independent","y":"independent"}},
  "layer":[
   {"data":{"name":"wb"},"mark":{"type":"line","strokeDash":[1,1.5],"strokeWidth":1},
    "encoding":{"x":{"field":"rh","type":"quantitative","scale":{"domain":[0,90],"nice":false,"zero":false},"axis":{"values":[0,10,20,30,40,50,60,70,80,90],"title":"RH (%)","titlePadding":1,"labelFont":"Liberation Serif","labelFontSize":10,"labelOverlap":false,"labelFlush":false}},
     "y":{"field":"w","type":"quantitative","scale":{"domain":[-0.06,1.2],"nice":false,"zero":false},"axis":{"values":[0,0.2,0.4,0.6,0.8,1.0,1.2],"format":".1f","title":"Normalized Water Content","titlePadding":2,"labelFont":"Liberation Serif","labelFontSize":10,"labelOverlap":false,"labelFlush":false}},
     "stroke":{"field":"s","type":"nominal","scale":{"domain":["dehydration","hydration"],"range":["#7080e0","#ffb266"]},"legend":null}}},
   {"data":{"name":"wb"},"mark":{"type":"point","filled":true,"shape":"circle","size":32,"opacity":1},
    "encoding":{"x":{"field":"rh","type":"quantitative","axis":null},"y":{"field":"w","type":"quantitative","axis":null},
     "color":{"field":"s","type":"nominal","scale":{"domain":["dehydration","hydration"],"range":["#1b1b85","#ff8f1f"]},
      "legend":{"orient":"none","legendX":8,"legendY":3,"title":null,"symbolType":"circle","symbolSize":40,"padding":0,"rowPadding":1,"labelOffset":6}}}},
   {"data":{"values":[{}]},"mark":{"type":"rule","color":"black","strokeWidth":0.8},"encoding":{"x":{"datum":28.6,"axis":null},"y":{"datum":0.223,"axis":null},"x2":{"datum":31.2},"y2":{"datum":0.182}}},
   {"data":{"values":[{}]},"mark":{"type":"point","shape":"triangle-up","filled":true,"color":"black","size":16,"angle":133,"opacity":1},"encoding":{"x":{"datum":31.3,"axis":null},"y":{"datum":0.179,"axis":null}}},
   {"data":{"values":[{}]},"mark":{"type":"rule","color":"black","strokeWidth":0.8},"encoding":{"x":{"datum":67.8,"axis":null},"y":{"datum":0.825,"axis":null},"x2":{"datum":72},"y2":{"datum":0.754}}},
   {"data":{"values":[{}]},"mark":{"type":"point","shape":"triangle-up","filled":true,"color":"black","size":16,"angle":133,"opacity":1},"encoding":{"x":{"datum":72.2,"axis":null},"y":{"datum":0.75,"axis":null}}},
   {"data":{"values":[{}]},"mark":{"type":"text","fontSize":10},"encoding":{"x":{"datum":28.3,"axis":null},"y":{"datum":0.292,"axis":null},"text":{"value":"30.5%"}}},
   {"data":{"values":[{}]},"mark":{"type":"text","fontSize":10},"encoding":{"x":{"datum":62.3,"axis":null},"y":{"datum":0.864,"axis":null},"text":{"value":"72.9%"}}},
   {"data":{"values":[{}]},"mark":{"type":"text","fontSize":13,"align":"left"},"encoding":{"x":{"datum":-18.8,"axis":null},"y":{"datum":1.218,"axis":null},"text":{"value":"(b)"}}},
   {"data":{"values":[{}]},"mark":{"type":"text","fontSize":13,"align":"left","color":"#ff2222"},"encoding":{"x":{"datum":-0.5,"axis":null},"y":{"datum":1.298,"axis":null},"text":{"value":"ATR-FTIR"}}}
  ]},
 {"width":169,"height":134,"view":{"stroke":null},
  "resolve":{"axis":{"x":"independent","y":"independent"}},
  "layer":[
   {"data":{"name":"sc"},"mark":{"type":"line","strokeWidth":1.1},
    "encoding":{"x":{"field":"x","type":"quantitative","scale":{"domain":[4025,2700,2010,1130],"range":[0,51.7,55,169],"nice":false,"zero":false},"axis":{"values":[4000,3500,3000,1800,1500,1200],"format":"d","title":"Wavenumber (cm⁻¹)","titleFontSize":14,"titlePadding":0,"labelFont":"Liberation Serif","labelFontSize":9,"labelOverlap":false,"labelFlush":false}},
     "y":{"field":"y","type":"quantitative","scale":{"domain":[0,0.28],"nice":false,"zero":false},"axis":{"values":[0,0.05,0.1,0.15,0.2,0.25],"format":".2f","title":"Absorbance","titleFontSize":14,"titlePadding":1,"labelFont":"Liberation Serif","labelFontSize":10,"labelOverlap":false,"labelFlush":false}},
     "color":{"field":"k","type":"nominal","scale":{"domain":["3.8%","21.2%","27.9%","46.9%","54.2%","61.9%","75.6%","85.4%"],"range":["#707070","#ff5050","#3a78f2","#3aa35a","#b07fe6","#d9a21b","#22cccc","#8c5a5a"]},"legend":null},
     "detail":{"field":"g"}}},
   {"data":{"name":"lc"},"mark":{"type":"rule","color":"black","strokeWidth":0.9,"strokeDash":[3,2]},"encoding":{"x":{"field":"x","type":"quantitative","axis":null},"y":{"field":"y","type":"quantitative","axis":null},"y2":{"field":"y2"}}},
   {"data":{"name":"pc"},"mark":{"type":"text","fontSize":8},"encoding":{"x":{"field":"x","type":"quantitative","axis":null},"y":{"field":"y","type":"quantitative","axis":null},"text":{"field":"t"}}},
   {"data":{"name":"rc"},"mark":{"type":"text","fontSize":9.5,"align":"left"},"encoding":{"x":{"datum":1107,"axis":null},"y":{"field":"y","type":"quantitative","axis":null},"text":{"field":"t"},"color":{"condition":{"test":"datum.t === '61.9 %' || datum.t === '46.9 %'","value":"#ff1a1a"},"value":"black"}}},
   {"data":{"values":[{}]},"mark":{"type":"text","fontSize":11,"align":"left"},"encoding":{"x":{"datum":1107,"axis":null},"y":{"datum":0.182,"axis":null},"text":{"value":"RH"}}},
   {"data":{"values":[{}]},"mark":{"type":"rule","color":"black","strokeWidth":1.2},"encoding":{"x":{"datum":888,"axis":null},"x2":{"datum":888},"y":{"datum":0.017,"axis":null},"y2":{"datum":0.15}}},
   {"data":{"values":[{}]},"mark":{"type":"point","shape":"triangle-up","filled":true,"color":"black","size":20,"opacity":1},"encoding":{"x":{"datum":888,"axis":null},"y":{"datum":0.151,"axis":null}}},
   {"data":{"values":[{}]},"mark":{"type":"rule","color":"black","strokeWidth":0.8},"encoding":{"x":{"datum":1462,"axis":null},"y":{"datum":0.199,"axis":null},"x2":{"datum":1450},"y2":{"datum":0.207}}},
   {"data":{"values":[{}]},"mark":{"type":"text","fontSize":10,"fontWeight":"normal"},"encoding":{"x":{"datum":2355,"axis":null},"y":{"datum":0,"axis":null},"text":{"value":"//"}}},
   {"data":{"values":[{}]},"mark":{"type":"text","fontSize":13,"align":"left"},"encoding":{"x":{"datum":5204,"axis":null},"y":{"datum":0.287,"axis":null},"text":{"value":"(c)"}}}
  ]},
 {"width":177,"height":134,"view":{"stroke":null},
  "resolve":{"axis":{"x":"independent","y":"independent"}},
  "layer":[
   {"data":{"name":"sd"},"mark":{"type":"line","strokeWidth":1.1},
    "encoding":{"x":{"field":"x","type":"quantitative","scale":{"domain":[4000,2780,2010,790],"range":[0,50,56,177],"nice":false,"zero":false},"axis":{"values":[4000,3000,1800,1500,1200,900],"format":"d","title":"Wavenumber (cm⁻¹)","titleFontSize":14,"titlePadding":0,"labelFont":"Liberation Serif","labelFontSize":10,"labelOverlap":false,"labelFlush":false}},
     "y":{"field":"y","type":"quantitative","scale":{"domain":[-0.022,0.305],"nice":false,"zero":false},"axis":{"values":[0,0.05,0.1,0.15,0.2,0.25,0.3],"format":".2f","title":"Absorbance","titleFontSize":14,"titlePadding":1,"labelFont":"Liberation Serif","labelFontSize":10,"labelOverlap":false,"labelFlush":false}},
     "color":{"field":"k","type":"nominal","scale":{"domain":["6.2%","15.9%","30.5%","49.8%","64.9%","72.9%","78.3%"],"range":["#1a1a1a","#ff2a2a","#2b2bff","#ff40ff","#1f9a1f","#23237e","#a855f7"]},"legend":null},
     "detail":{"field":"g"}}},
   {"data":{"name":"ld"},"mark":{"type":"rule","color":"black","strokeWidth":0.9,"strokeDash":[3,2]},"encoding":{"x":{"field":"x","type":"quantitative","axis":null},"x2":{"field":"x2"},"y":{"field":"y","type":"quantitative","axis":null},"y2":{"field":"y2"}}},
   {"data":{"name":"pd"},"mark":{"type":"text","fontSize":8.5},"encoding":{"x":{"field":"x","type":"quantitative","axis":null},"y":{"field":"y","type":"quantitative","axis":null},"text":{"field":"t"}}},
   {"data":{"name":"rd"},"mark":{"type":"text","fontSize":9.5,"align":"left"},"encoding":{"x":{"datum":759,"axis":null},"y":{"field":"y","type":"quantitative","axis":null},"text":{"field":"t"},"color":{"condition":{"test":"datum.t === '72.9 %' || datum.t === '30.5 %'","value":"#ff1a1a"},"value":"black"}}},
   {"data":{"values":[{}]},"mark":{"type":"text","fontSize":11,"align":"left"},"encoding":{"x":{"datum":739,"axis":null},"y":{"datum":0.251,"axis":null},"text":{"value":"RH"}}},
   {"data":{"values":[{}]},"mark":{"type":"rule","color":"black","strokeWidth":1.2},"encoding":{"x":{"datum":488,"axis":null},"x2":{"datum":488},"y":{"datum":0.212,"axis":null},"y2":{"datum":0.036}}},
   {"data":{"values":[{}]},"mark":{"type":"point","shape":"triangle-down","filled":true,"color":"black","size":20,"opacity":1},"encoding":{"x":{"datum":488,"axis":null},"y":{"datum":0.035,"axis":null}}},
   {"data":{"values":[{}]},"mark":{"type":"text","fontSize":10,"fontWeight":"normal"},"encoding":{"x":{"datum":2400,"axis":null},"y":{"datum":-0.022,"axis":null},"text":{"value":"//"}}},
   {"data":{"values":[{}]},"mark":{"type":"text","fontSize":13,"align":"left"},"encoding":{"x":{"datum":4878,"axis":null},"y":{"datum":0.312,"axis":null},"text":{"value":"(d)"}}}
  ]}
]
}
